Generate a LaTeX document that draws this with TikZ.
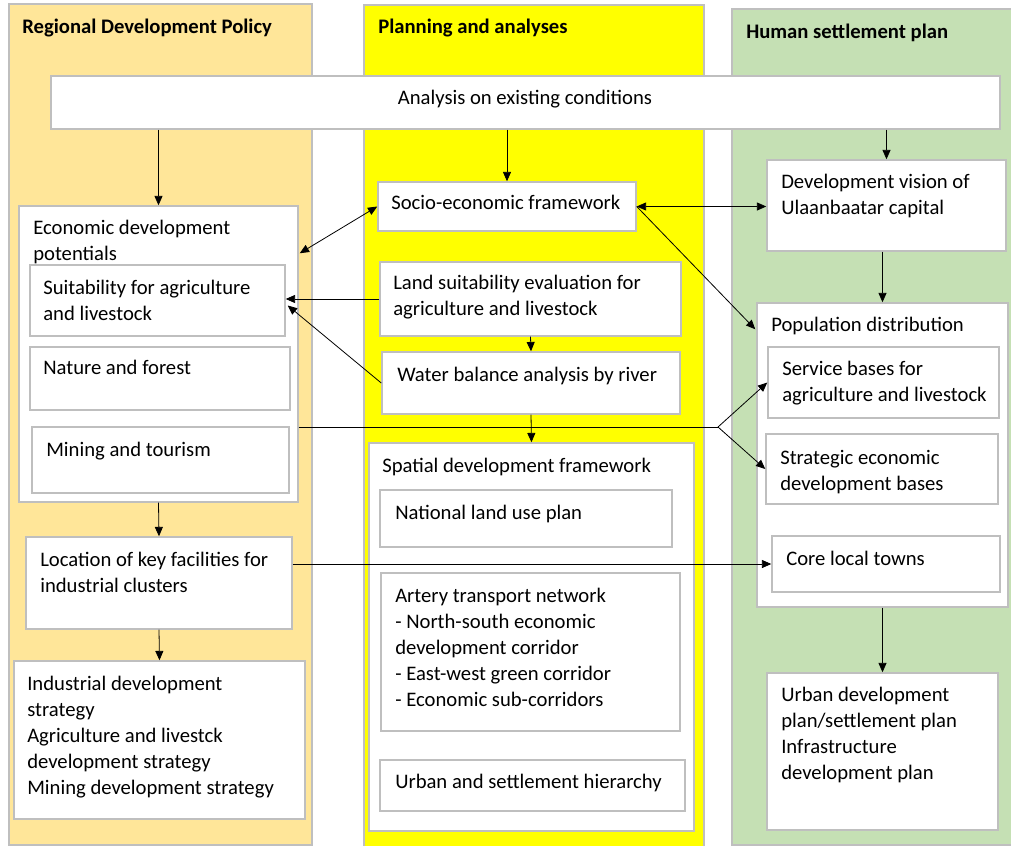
\documentclass[tikz,border=0pt]{standalone}
\usepackage{fontspec}
\setmainfont{Carlito}
\usetikzlibrary{arrows.meta,positioning,calc,fit}
\definecolor{policybg}{HTML}{FFE699}
\definecolor{planbg}{HTML}{FFFF00}
\definecolor{settlebg}{HTML}{C5E0B4}
\definecolor{boxline}{HTML}{BFBFBF}

\begin{document}
\begin{tikzpicture}[x=0.75pt, y=-0.75pt,
    font=\fontsize{15.5}{19.5}\selectfont,
    panel/.style={draw=boxline, line width=1.1pt, inner sep=0pt},
    box/.style={draw=boxline, fill=white, line width=1.1pt, inner sep=0pt},
    txt/.style={anchor=north west, align=left, inner sep=0pt},
    title/.style={anchor=west, inner sep=0pt, font=\fontsize{15.5}{19.5}\selectfont\bfseries},
    >={Triangle[length=7pt,width=6pt]},
    link/.style={line width=0.6pt}]
    \useasboundingbox (0,0) rectangle (1011,846);

    % Three columns with their headings
    \node[panel, fill=policybg, fit={(9,4) (312,845)}] (policy) {};
    \node[panel, fill=planbg, fit={(364,5) (704,852)}] (planning) {};
    \node[panel, fill=settlebg, fit={(732,9) (1014,845)}] (settle) {};
    \node[title] (policy-t) at (22,28) {Regional Development Policy};
    \node[title] (planning-t) at (378,28) {Planning and analyses};
    \node[title] (settle-t) at (746,33) {Human settlement plan};

    % Common analysis across all columns
    \node[box, fit={(51,76) (1000,129)}] (analysis) {};
    \node (analysis-t) at (525,99) {Analysis on existing conditions};

    % Regional development policy
    \node[box, fit={(19,206) (298,502)}] (econ) {};
    \node[txt] (econ-t) at (33,220) {Economic development\\potentials};
    \node[box, fit={(30,265) (285,336)}] (suit) {};
    \node[txt] (suit-t) at (43,280) {Suitability for agriculture\\and livestock};
    \node[box, fit={(30,347) (290,410)}] (nature) {};
    \node[txt] (nature-t) at (43,360) {Nature and forest};
    \node[box, fit={(32,427) (289,493)}] (mining) {};
    \node[txt] (mining-t) at (46,442) {Mining and tourism};
    \node[box, fit={(26,537) (292,629)}] (location) {};
    \node[txt] (location-t) at (40,552) {Location of key facilities for\\industrial clusters};
    \node[box, fit={(14,661) (305,819)}] (industry) {};
    \node[txt] (industry-t) at (27,676) {Industrial development\\strategy\\Agriculture and livestck\\development strategy\\Mining development strategy};

    % Planning and analyses
    \node[box, fit={(378,182) (636,231)}] (socio) {};
    \node[txt] (socio-t) at (391,195) {Socio-economic framework};
    \node[box, fit={(380,262) (681,336)}] (land) {};
    \node[txt] (land-t) at (393,275) {Land suitability evaluation for\\agriculture and livestock};
    \node[box, fit={(382,352) (680,414)}] (water) {};
    \node[txt] (water-t) at (397,367) {Water balance analysis by river};
    \node[box, fit={(369,443) (694,831)}] (spatial) {};
    \node[txt] (spatial-t) at (382,458) {Spatial development framework};
    \node[box, fit={(380,490) (672,547)}] (landuse) {};
    \node[txt] (landuse-t) at (395,505) {National land use plan};
    \node[box, fit={(381,573) (680,731)}] (artery) {};
    \node[txt] (artery-t) at (395,588) {Artery transport network\\- North-south economic\\development corridor\\- East-west green corridor\\- Economic sub-corridors};
    \node[box, fit={(380,760) (685,811)}] (hierarchy) {};
    \node[txt] (hierarchy-t) at (395,774) {Urban and settlement hierarchy};

    % Human settlement plan
    \node[box, fit={(767,160) (1006,251)}] (vision) {};
    \node[txt] (vision-t) at (781,174) {Development vision of\\Ulaanbaatar capital};
    \node[box, fit={(757,303) (1008,607)}] (popdist) {};
    \node[txt] (popdist-t) at (771,317) {Population distribution};
    \node[box, fit={(768,347) (999,418)}] (service) {};
    \node[txt] (service-t) at (782,361) {Service bases for\\agriculture and livestock};
    \node[box, fit={(766,434) (998,504)}] (strategic) {};
    \node[txt] (strategic-t) at (780,450) {Strategic economic\\development bases};
    \node[box, fit={(772,536) (1000,592)}] (core) {};
    \node[txt] (core-t) at (786,551) {Core local towns};
    \node[box, fit={(767,673) (998,830)}] (urbanplan) {};
    \node[txt] (urbanplan-t) at (781,687) {Urban development\\plan/settlement plan\\Infrastructure\\development plan};

    % Vertical flows
    \draw[link, ->] (analysis.south -| econ.north) -- (econ.north);
    \draw[link, ->] (analysis.south -| socio.north) -- (socio.north);
    \draw[link, ->] (analysis.south -| vision.north) -- (vision.north);
    \draw[link, ->] (econ.south) -- (location.north);
    \draw[link, ->] (location.south) -- (industry.north);
    \draw[link, ->] (land.south) -- (water.north);
    \draw[link, ->] (water.south) -- (spatial.north);
    \draw[link, ->] (vision.south -| popdist.north) -- (popdist.north);
    \draw[link, ->] (popdist.south) -- (urbanplan.north);

    % Links between columns
    \draw[link, <->] (socio.west) -- ($(econ.north east)+(1,48)$);
    \draw[link, <->] (socio.east) -- (socio.east -| vision.west);
    \draw[link, ->] (socio.east) -- ($(popdist.north west)+(-1,27)$);
    \draw[link, ->] (land.west) -- (land.west -| suit.east);
    \draw[link, ->] (water.west) -- ($(suit.east)+(2,5)$);
    \coordinate (split) at (718,427);
    \draw[link] (econ.east |- split) -- (split);
    \draw[link, ->] (split) -- (service.west);
    \draw[link, ->] (split) -- (strategic.west);
    \draw[link, ->] (location.east |- core.west) -- (core.west);
\end{tikzpicture}
\end{document}
